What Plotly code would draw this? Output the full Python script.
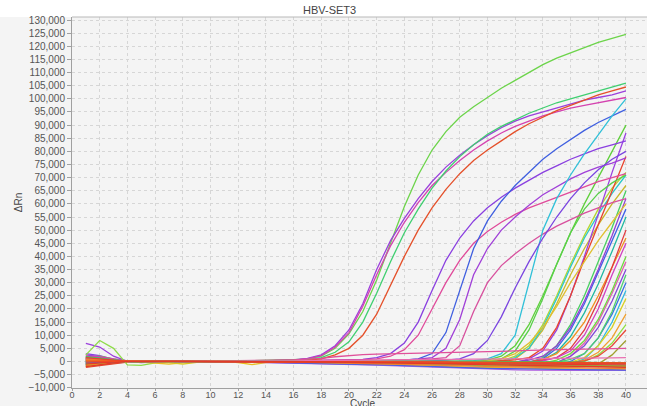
import plotly.graph_objects as go

cycles = list(range(1, 41))

# dRn values in thousands, cycles 1..40
green_top = [1.5,2.0,1.0,0.2,-0.2,0.0,0.2,0.1,0.0,0.2,
             0.3,0.1,0.2,0.3,0.5,0.7,1.0,2.0,5.0,10.5,
             19.0,31.0,45.0,59.0,71.0,80.5,87.5,93.0,97.0,100.5,
             104.0,107.0,110.0,113.0,115.5,117.5,119.5,121.5,123.0,124.5]
purple1 = [6.9,5.5,2.0,0.0,-0.3,0.1,0.0,0.2,0.1,0.1,
           0.2,0.0,0.1,0.2,0.4,0.6,1.2,2.5,6.0,12.0,
           22.0,35.0,46.0,54.5,62.0,68.5,74.0,78.5,82.5,86.0,
           89.0,91.5,93.5,95.0,96.5,98.0,99.5,100.5,101.5,103.0]
magenta1 = [2.0,1.8,1.0,0.1,-0.2,0.0,0.1,0.1,0.2,0.0,
            0.1,0.1,0.2,0.2,0.3,0.5,1.0,2.2,5.5,11.0,
            21.0,33.0,44.0,53.0,60.5,67.0,72.0,76.5,80.5,84.0,
            87.0,89.5,91.5,93.5,95.0,96.5,97.5,98.5,99.5,100.5]
green2 = [1.0,1.2,0.5,0.0,-0.1,0.1,0.0,0.1,0.0,0.2,
          0.1,0.2,0.1,0.3,0.4,0.5,0.8,1.5,3.5,7.5,
          15.0,26.0,38.0,49.0,58.0,66.0,72.5,78.0,82.5,86.5,
          89.5,92.0,94.5,96.5,98.5,100.0,101.5,103.0,104.5,106.0]
red1 = [-1.5,-1.0,-0.5,0.0,0.1,-0.1,0.0,0.1,0.0,0.1,
        0.0,0.1,0.1,0.2,0.3,0.4,0.5,1.0,2.5,5.0,
        10.0,18.0,29.0,40.0,50.0,58.5,65.5,71.5,76.5,80.5,
        84.0,87.5,90.5,93.0,95.5,97.5,99.5,101.5,103.0,104.5]

purpleA = [3.0,2.2,0.8,0.0,-0.3,0.0,0.1,0.0,0.1,0.0,
           0.1,0.0,0.0,0.1,0.2,0.2,0.3,0.4,0.5,0.6,
           0.8,1.5,3.0,7.0,15.0,27.0,38.5,47.0,53.5,58.5,
           62.5,66.0,69.0,72.0,74.5,77.0,79.0,81.0,82.5,84.0]
pinkA = [1.0,0.8,0.3,0.0,-0.2,0.1,0.0,0.1,0.0,0.0,
         0.1,0.1,0.0,0.1,0.1,0.2,0.3,0.3,0.4,0.5,
         0.7,1.0,2.0,4.5,10.0,20.0,30.0,38.5,45.0,49.5,
         53.0,56.0,58.5,60.5,62.5,64.5,66.5,68.5,70.0,71.5]
blueA = [-0.5,-0.3,0.0,0.1,0.0,-0.1,0.0,0.0,0.1,0.0,
         0.0,-0.1,0.0,0.0,0.0,-0.1,-0.1,0.0,0.0,0.1,
         0.1,0.2,0.3,0.5,1.0,3.0,11.0,27.0,43.0,53.5,
         61.0,67.0,72.0,77.0,81.0,84.5,88.0,91.0,93.5,96.0]
purpleB = [0.5,0.3,0.1,0.0,-0.1,0.0,0.0,0.1,0.0,0.0,
           0.0,0.0,-0.1,0.0,0.0,0.0,0.0,0.1,0.1,0.2,
           0.2,0.3,0.4,0.6,0.9,1.5,5.0,16.0,33.0,43.0,
           50.0,55.0,59.5,63.5,66.5,69.5,72.0,74.0,75.5,77.5]
pinkB = [1.2,0.8,0.4,0.0,-0.1,0.0,0.1,0.0,0.0,0.1,
         0.0,0.0,0.0,0.0,0.1,0.1,0.1,0.2,0.2,0.3,
         0.3,0.4,0.5,0.6,0.8,1.0,1.5,6.0,19.0,30.0,
         36.5,41.0,45.0,48.5,51.5,54.0,56.5,58.5,60.5,62.0]
cyanA = [-1.0,-0.6,-0.2,0.0,0.0,0.1,0.0,0.0,0.0,-0.1,
         0.0,0.0,0.0,-0.1,-0.1,-0.2,-0.2,-0.3,-0.3,-0.4,
         -0.4,-0.5,-0.5,-0.5,-0.4,-0.3,-0.2,0.0,0.3,1.0,
         3.0,10.0,30.0,50.0,62.0,71.0,79.0,86.5,93.5,100.0]
purpleC = [0.0,0.3,0.2,0.0,-0.1,0.0,0.0,0.0,0.1,0.0,
           0.0,0.0,0.0,-0.1,-0.1,-0.1,-0.2,-0.2,-0.3,-0.3,
           -0.3,-0.3,-0.2,-0.1,0.0,0.2,0.5,1.0,3.0,8.0,
           17.0,28.0,38.0,47.0,55.0,62.0,68.0,73.0,77.0,80.0]

late1 = [-0.8,-0.4,0.0,0.1,0.0,0.0,-0.1,0.0,0.0,0.1,
         0.0,0.0,-0.1,-0.1,-0.2,-0.2,-0.3,-0.3,-0.4,-0.4,
         -0.5,-0.5,-0.6,-0.6,-0.7,-0.7,-0.6,-0.5,-0.2,0.5,
         2.0,6.0,14.0,25.0,37.0,49.0,60.0,70.0,80.0,90.0]
late2 = [1.5,1.0,0.5,0.0,-0.2,0.0,0.1,0.0,0.0,0.1,
         0.1,0.0,0.0,0.0,-0.1,-0.1,-0.1,-0.2,-0.2,-0.3,
         -0.3,-0.4,-0.4,-0.5,-0.5,-0.6,-0.6,-0.6,-0.5,-0.3,
         0.2,2.0,6.0,14.0,25.0,37.0,48.0,58.0,66.0,72.0]
late3 = [0.5,0.8,0.3,0.1,0.0,-0.1,0.0,0.0,0.1,0.0,
         0.0,-0.1,-0.1,-0.2,-0.3,-0.4,-0.5,-0.6,-0.7,-0.8,
         -0.9,-1.0,-1.0,-1.1,-1.2,-1.2,-1.3,-1.3,-1.2,-1.0,
         -0.5,1.0,5.0,12.0,22.0,33.0,43.0,52.0,60.0,67.0]
late4 = [-1.8,-1.2,-0.6,-0.1,0.1,0.0,0.0,0.1,0.0,0.0,
         0.0,0.0,-0.1,-0.1,-0.2,-0.2,-0.3,-0.3,-0.4,-0.4,
         -0.5,-0.5,-0.6,-0.7,-0.8,-0.8,-0.9,-0.9,-0.8,-0.6,
         -0.2,1.5,5.0,13.0,24.0,36.0,47.0,56.0,64.0,71.0]
late5 = [2.5,1.8,0.8,0.0,-0.4,-0.1,0.0,0.1,0.0,0.0,
         0.1,0.0,0.0,0.0,-0.1,-0.1,-0.1,-0.2,-0.2,-0.3,
         -0.3,-0.4,-0.5,-0.5,-0.6,-0.7,-0.7,-0.8,-0.8,-0.8,
         -0.7,-0.4,1.0,4.0,12.0,25.0,40.0,56.0,72.0,87.0]
late6 = [-2.2,-1.5,-0.8,-0.2,0.0,0.1,0.0,0.0,0.0,0.0,
         0.1,0.1,0.0,0.1,0.0,0.1,0.1,0.2,0.2,0.3,
         0.3,0.3,0.2,0.2,0.1,0.1,0.0,0.0,0.0,0.1,
         0.3,0.6,1.5,5.0,13.0,25.0,39.0,52.0,65.0,78.0]
late7 = [1.0,1.5,0.6,0.0,-0.3,0.0,0.1,0.0,0.1,0.0,
         0.0,-0.1,-0.1,-0.2,-0.3,-0.4,-0.5,-0.6,-0.7,-0.8,
         -0.9,-1.0,-1.1,-1.2,-1.3,-1.4,-1.4,-1.5,-1.5,-1.5,
         -1.4,-1.2,-0.5,1.5,6.0,14.0,25.0,38.0,51.0,65.0]
late8 = [0.3,0.2,0.1,0.0,0.0,0.1,0.0,0.0,0.0,0.0,
         0.0,0.0,0.0,-0.1,-0.1,-0.2,-0.2,-0.3,-0.3,-0.4,
         -0.4,-0.5,-0.5,-0.6,-0.6,-0.7,-0.7,-0.8,-0.8,-0.8,
         -0.8,-0.7,-0.5,0.5,3.5,9.5,18.5,29.5,42.0,55.0]
late9 = [-1.2,-0.8,-0.3,0.0,0.1,0.0,0.0,0.0,0.1,0.0,
         0.0,0.0,-0.1,-0.1,-0.1,-0.2,-0.2,-0.3,-0.4,-0.5,
         -0.6,-0.7,-0.8,-0.9,-1.0,-1.0,-1.1,-1.1,-1.1,-1.0,
         -0.9,-0.7,-0.2,1.0,5.0,12.0,22.0,34.0,46.0,58.0]
late10 = [2.0,1.2,0.5,0.0,-0.2,0.0,0.1,0.0,0.1,0.0,
          0.0,0.0,0.1,0.0,0.0,-0.1,-0.1,-0.1,-0.2,-0.2,
          -0.3,-0.3,-0.4,-0.4,-0.5,-0.5,-0.6,-0.6,-0.6,-0.6,
          -0.6,-0.5,-0.3,0.8,3.0,8.0,15.0,25.0,36.0,47.0]
late11 = [0.8,0.5,0.2,0.0,-0.1,0.0,0.0,0.1,0.0,0.0,
          0.0,-0.1,-0.1,-0.2,-0.2,-0.3,-0.4,-0.5,-0.6,-0.7,
          -0.8,-0.9,-1.0,-1.1,-1.2,-1.3,-1.4,-1.5,-1.6,-1.6,
          -1.7,-1.7,-1.6,-1.4,-0.5,2.0,7.0,15.0,26.0,38.0]
late12 = [-0.6,-0.3,0.0,0.1,0.0,0.0,0.1,0.0,0.0,0.0,
          0.1,0.0,0.0,0.0,0.0,-0.1,-0.1,-0.1,-0.2,-0.2,
          -0.2,-0.3,-0.3,-0.3,-0.4,-0.4,-0.4,-0.5,-0.5,-0.5,
          -0.5,-0.4,-0.2,0.5,1.5,5.0,12.0,23.0,36.0,50.0]
late13 = [-1.5,-1.0,-0.4,0.0,0.1,0.0,-0.1,0.0,0.0,0.1,
          0.0,0.0,-0.1,-0.1,-0.2,-0.3,-0.4,-0.5,-0.6,-0.7,
          -0.8,-0.9,-1.0,-1.0,-1.1,-1.2,-1.2,-1.3,-1.3,-1.3,
          -1.3,-1.2,-1.0,-0.6,0.5,3.0,8.0,16.0,27.0,40.0]
late14 = [1.8,1.2,0.6,0.1,-0.2,0.0,0.0,0.1,0.0,0.0,
          0.0,0.0,0.0,-0.1,-0.1,-0.2,-0.2,-0.3,-0.3,-0.4,
          -0.5,-0.6,-0.7,-0.8,-0.9,-1.0,-1.1,-1.2,-1.3,-1.4,
          -1.5,-1.5,-1.4,-1.2,-0.4,2.0,6.0,13.0,23.0,35.0]
late15 = [0.2,0.4,0.2,0.0,0.0,0.0,0.1,0.0,0.0,0.0,
          0.0,0.0,-0.1,0.0,-0.1,-0.1,-0.2,-0.2,-0.3,-0.3,
          -0.4,-0.4,-0.5,-0.5,-0.6,-0.6,-0.7,-0.7,-0.7,-0.7,
          -0.7,-0.6,-0.4,0.2,1.5,4.0,10.0,20.0,33.0,45.0]
late16 = [-0.4,-0.2,0.0,0.1,0.0,0.0,0.0,0.0,0.1,0.0,
          0.0,0.0,-0.1,-0.1,-0.2,-0.3,-0.4,-0.5,-0.6,-0.7,
          -0.8,-0.9,-1.0,-1.1,-1.2,-1.3,-1.4,-1.5,-1.6,-1.7,
          -1.8,-1.9,-2.0,-2.0,-1.8,-1.0,1.0,6.0,15.0,27.0]
late17 = [1.2,0.9,0.4,0.0,-0.2,-0.1,0.0,0.0,0.0,0.1,
          0.0,0.0,0.0,-0.1,-0.1,-0.1,-0.2,-0.2,-0.3,-0.3,
          -0.4,-0.4,-0.5,-0.5,-0.6,-0.6,-0.7,-0.7,-0.8,-0.8,
          -0.9,-0.9,-1.0,-1.0,-0.9,-0.3,1.5,6.0,13.0,24.0]
late18 = [-1.0,-0.6,-0.2,0.0,0.1,0.0,0.0,0.0,0.0,0.0,
          0.0,-0.1,-0.1,-0.2,-0.2,-0.3,-0.3,-0.4,-0.5,-0.6,
          -0.7,-0.8,-0.9,-1.0,-1.1,-1.2,-1.3,-1.4,-1.5,-1.6,
          -1.7,-1.8,-1.9,-1.9,-1.5,0.0,3.0,9.0,18.0,30.0]
late19 = [0.6,0.4,0.2,0.0,0.0,0.1,0.0,0.0,0.0,0.0,
          0.1,0.0,0.0,0.0,-0.1,-0.1,-0.1,-0.2,-0.2,-0.2,
          -0.3,-0.3,-0.4,-0.4,-0.4,-0.5,-0.5,-0.5,-0.6,-0.6,
          -0.6,-0.7,-0.7,-0.7,-0.7,-0.6,0.5,3.5,9.0,18.0]
late20 = [-0.2,0.0,0.1,0.0,0.0,0.0,0.0,0.1,0.0,0.0,
          0.0,0.0,-0.1,-0.1,-0.1,-0.2,-0.2,-0.3,-0.3,-0.4,
          -0.4,-0.5,-0.5,-0.6,-0.6,-0.7,-0.7,-0.8,-0.8,-0.9,
          -0.9,-1.0,-1.0,-1.1,-1.1,-1.0,0.0,2.5,7.0,14.0]
late21 = [-1.4,-0.9,-0.4,0.0,0.1,0.0,0.0,0.0,0.0,0.0,
          0.0,0.0,0.0,0.0,-0.1,-0.1,-0.1,-0.1,-0.2,-0.2,
          -0.2,-0.2,-0.3,-0.3,-0.3,-0.3,-0.4,-0.4,-0.4,-0.4,
          -0.4,-0.4,-0.5,-0.5,-0.5,-0.4,0.2,2.0,6.0,12.0]
late22 = [0.9,0.6,0.3,0.0,-0.1,0.0,0.0,0.0,0.1,0.0,
          0.0,0.0,-0.1,-0.1,-0.2,-0.2,-0.3,-0.4,-0.5,-0.6,
          -0.7,-0.8,-0.9,-1.0,-1.1,-1.2,-1.3,-1.4,-1.5,-1.6,
          -1.7,-1.8,-1.9,-2.0,-2.1,-2.1,-2.0,-1.0,2.5,8.0]
late23 = [-0.3,0.2,0.2,0.0,-0.1,0.0,0.0,0.0,0.0,0.0,
          0.0,0.0,0.0,-0.1,-0.1,-0.1,-0.2,-0.2,-0.2,-0.3,
          -0.3,-0.4,-0.4,-0.5,-0.5,-0.5,-0.6,-0.6,-0.6,-0.7,
          -0.7,-0.7,-0.7,-0.6,-0.3,0.8,3.0,9.0,19.0,33.0]
late24 = [1.4,1.0,0.4,0.0,-0.2,0.0,0.0,0.0,0.1,0.0,
          0.0,0.0,-0.1,-0.1,-0.1,-0.2,-0.2,-0.3,-0.3,-0.4,
          -0.4,-0.5,-0.5,-0.6,-0.6,-0.7,-0.7,-0.7,-0.7,-0.6,
          -0.5,-0.2,0.5,2.0,6.0,13.0,23.0,35.0,48.0,62.0]
late25 = [0.0,0.5,0.3,0.0,-0.1,0.0,0.0,0.1,0.0,0.0,
          0.0,0.0,-0.1,-0.1,-0.1,-0.2,-0.2,-0.3,-0.3,-0.4,
          -0.4,-0.4,-0.5,-0.5,-0.5,-0.5,-0.5,-0.4,-0.3,0.0,
          1.0,4.0,12.0,24.0,37.0,49.0,58.0,64.0,68.0,71.0]
late26 = [0.3,0.6,0.3,0.0,-0.1,0.0,0.0,0.0,0.0,0.1,
          0.0,0.0,0.0,0.0,-0.1,-0.1,-0.1,-0.2,-0.2,-0.2,
          -0.3,-0.3,-0.3,-0.4,-0.4,-0.4,-0.4,-0.3,-0.2,0.2,
          1.0,3.0,7.0,13.0,21.0,30.0,38.0,46.0,53.0,60.0]

flat1 = [2.5,8.0,5.0,-1.3,-1.5,-0.5,-0.3,0.0,0.1,0.0,
         0.0,0.0,-0.1,-0.1,-0.2,-0.2,-0.3,-0.3,-0.4,-0.5,
         -0.5,-0.6,-0.7,-0.8,-0.8,-0.9,-1.0,-1.0,-1.1,-1.2,
         -1.2,-1.3,-1.3,-1.4,-1.4,-1.5,-1.5,-1.6,-1.6,-1.7]
flat2 = [1.0,0.5,0.2,0.0,0.0,0.1,0.0,0.1,0.1,0.2,
         0.2,0.3,0.3,0.4,0.5,0.6,0.8,1.2,1.8,2.3,
         2.6,2.8,2.9,3.0,3.1,3.2,3.3,3.4,3.5,3.6,
         3.8,4.0,4.2,4.4,4.5,4.6,4.7,4.8,4.9,5.0]
flat3 = [-2.0,-1.0,-0.3,0.0,-0.2,-0.6,-1.0,-0.5,-0.2,0.0,
         0.0,-0.4,-1.2,-0.4,-0.1,-0.2,-0.3,-0.4,-0.5,-0.6,
         -0.8,-1.0,-1.2,-1.4,-1.6,-1.8,-2.0,-2.1,-2.2,-2.3,
         -2.4,-2.5,-2.6,-2.7,-2.8,-2.9,-3.0,-3.0,-3.1,-3.2]
flat4 = [-1.0,-0.5,-0.1,0.0,0.1,0.0,0.0,0.0,0.0,0.0,
         0.0,0.0,0.0,0.0,-0.1,-0.1,-0.2,-0.2,-0.3,-0.3,
         -0.4,-0.4,-0.5,-0.5,-0.6,-0.6,-0.7,-0.7,-0.8,-0.8,
         -0.9,-0.9,-1.0,-1.0,-1.1,-1.1,-1.2,-1.2,-1.3,-1.3]
flat5 = [0.4,0.3,0.1,0.0,0.0,0.0,0.0,0.0,0.0,0.0,
         0.0,0.0,0.0,0.0,0.0,0.0,0.0,-0.1,-0.1,-0.1,
         -0.2,-0.2,-0.2,-0.3,-0.3,-0.3,-0.3,-0.4,-0.4,-0.4,
         -0.4,-0.4,-0.5,-0.5,-0.5,-0.5,-0.5,-0.5,-0.6,-0.6]
flat6 = [1.8,1.2,0.6,0.0,-0.2,0.0,0.0,0.0,0.0,0.0,
         0.0,0.0,0.1,0.1,0.1,0.2,0.2,0.3,0.3,0.3,
         0.3,0.3,0.3,0.3,0.2,0.2,0.2,0.1,0.1,0.0,
         0.0,-0.1,-0.1,-0.2,-0.2,-0.3,-0.3,-0.4,-0.4,-0.5]
flat7 = [0.0,0.2,0.1,0.0,0.0,0.0,-0.1,-0.1,-0.1,-0.1,
         -0.2,-0.2,-0.3,-0.4,-0.5,-0.6,-0.7,-0.8,-0.9,-1.0,
         -1.2,-1.4,-1.6,-1.8,-2.0,-2.2,-2.4,-2.6,-2.8,-3.0,
         -3.1,-3.2,-3.3,-3.4,-3.4,-3.4,-3.4,-3.4,-3.4,-3.4]
flat8 = [-1.2,-0.6,-0.1,0.1,0.0,0.0,-0.4,-1.0,-0.3,0.0,
         0.0,0.0,0.0,0.0,-0.1,-0.1,-0.1,-0.2,-0.2,-0.3,
         -0.3,-0.4,-0.4,-0.5,-0.6,-0.7,-0.8,-0.9,-1.0,-1.1,
         -1.2,-1.3,-1.4,-1.5,-1.6,-1.7,-1.8,-1.9,-2.0,-2.1]
flat9 = [-0.8,-0.5,-0.1,0.0,0.0,0.0,0.0,0.0,0.0,0.1,
         0.1,0.1,0.1,0.1,0.0,0.0,0.0,-0.1,-0.1,-0.2,
         -0.3,-0.4,-0.5,-0.6,-0.7,-0.8,-0.9,-1.0,-1.1,-1.2,
         -1.3,-1.4,-1.4,-1.5,-1.5,-1.6,-1.6,-1.6,-1.7,-1.7]
flat10 = [0.9,0.6,0.2,0.0,0.0,0.0,0.0,0.0,0.0,0.0,
          0.0,0.0,0.0,-0.1,-0.1,-0.2,-0.3,-0.4,-0.5,-0.6,
          -0.7,-0.8,-0.9,-1.0,-1.2,-1.3,-1.5,-1.6,-1.8,-1.9,
          -2.0,-2.1,-2.2,-2.3,-2.4,-2.5,-2.5,-2.6,-2.6,-2.7]
flat11 = [-0.3,-0.1,0.0,0.0,0.0,0.0,0.0,0.0,0.0,0.0,
          0.0,0.0,0.0,0.0,0.0,-0.1,-0.1,-0.1,-0.2,-0.2,
          -0.2,-0.3,-0.3,-0.3,-0.4,-0.4,-0.4,-0.5,-0.5,-0.6,
          -0.6,-0.6,-0.7,-0.7,-0.8,-0.8,-0.8,-0.9,-0.9,-1.0]
flat12 = [1.5,1.0,0.4,0.0,-0.1,0.0,0.0,0.0,0.0,0.0,
          0.0,0.0,0.0,0.0,0.0,0.0,-0.1,-0.1,-0.1,-0.2,
          -0.2,-0.2,-0.3,-0.3,-0.3,-0.4,-0.4,-0.4,-0.5,-0.5,
          -0.5,-0.6,-0.6,-0.6,-0.7,-0.7,-0.7,-0.8,-0.8,-0.8]
flat13 = [0.6,0.4,0.2,0.0,0.0,0.0,0.0,0.0,0.0,0.0,
          0.0,0.1,0.1,0.1,0.2,0.2,0.3,0.3,0.4,0.4,
          0.5,0.5,0.6,0.6,0.7,0.7,0.8,0.8,0.9,0.9,
          1.0,1.0,1.1,1.1,1.2,1.2,1.3,1.3,1.4,1.5]
flat14 = [-0.5,-0.3,0.0,0.0,0.0,0.0,0.0,0.0,0.0,-0.1,
          -0.1,-0.1,-0.2,-0.3,-0.4,-0.5,-0.6,-0.7,-0.8,-0.9,
          -1.0,-1.2,-1.4,-1.6,-1.8,-2.0,-2.2,-2.4,-2.5,-2.6,
          -2.7,-2.8,-2.9,-3.0,-3.0,-3.1,-3.1,-3.2,-3.2,-3.3]
flat15 = [-0.2,0.0,0.1,0.0,0.0,0.0,0.0,0.0,0.0,0.0,
          0.0,0.0,0.0,0.0,0.0,0.0,0.0,0.0,0.0,-0.1,
          -0.1,-0.1,-0.1,-0.2,-0.2,-0.2,-0.2,-0.3,-0.3,-0.3,
          -0.3,-0.3,-0.3,-0.4,-0.4,-0.4,-0.4,-0.4,-0.5,-0.5]
flat16 = [0.2,0.5,0.3,0.0,0.0,0.0,0.0,0.0,0.0,0.0,
          0.0,0.0,0.0,-0.1,-0.1,-0.1,-0.2,-0.3,-0.4,-0.5,
          -0.6,-0.7,-0.8,-0.9,-1.0,-1.1,-1.2,-1.3,-1.3,-1.4,
          -1.4,-1.5,-1.5,-1.5,-1.6,-1.6,-1.6,-1.7,-1.7,-1.8]
flat17 = [-2.0,-1.2,-0.5,0.0,0.1,0.0,0.0,0.0,0.0,0.0,
          0.0,0.0,0.0,-0.1,-0.1,-0.1,-0.2,-0.2,-0.2,-0.3,
          -0.3,-0.4,-0.5,-0.6,-0.7,-0.8,-0.9,-1.0,-1.1,-1.2,
          -1.3,-1.4,-1.5,-1.6,-1.7,-1.8,-1.9,-2.0,-2.1,-2.2]

x_ticks = list(range(0, 41, 2))
title_text = "HBV-SET3"
x_title = "Cycle"
y_title = "ΔRn"

series = [
    (late1, "#5fd03c"), (late2, "#b5d630"), (late3, "#c8b82a"), (late4, "#2cc8c8"),
    (late5, "#9a40e0"), (late6, "#e8442e"), (late7, "#48d060"), (late8, "#20b8a0"),
    (late9, "#4060e8"), (late10, "#f09020"), (late11, "#e060b0"), (late12, "#e03a40"),
    (late13, "#70d840"), (late14, "#8048d8"), (late15, "#d040c0"), (late16, "#30b8e0"),
    (late17, "#d8d020"), (late18, "#3a70e0"), (late19, "#f0a030"), (late20, "#90e040"),
    (late21, "#e84a3a"), (late22, "#a0a030"), (late23, "#50d070"), (late24, "#9040d0"),
    (late25, "#58d048"), (late26, "#e0c030"),
    (purpleA, "#8a3fe0"), (pinkA, "#e04a9a"), (blueA, "#3f5fe0"), (purpleB, "#a040d8"),
    (pinkB, "#d8509e"), (cyanA, "#30c0d8"), (purpleC, "#7a44e0"),
    (green_top, "#6cd44a"), (purple1, "#9b3fdc"), (magenta1, "#d442b0"),
    (green2, "#3fcf70"), (red1, "#e5502a"),
    (flat1, "#8fdc4a"), (flat2, "#e0509a"), (flat3, "#e8c020"), (flat6, "#40c860"),
    (flat7, "#b060e0"), (flat8, "#d8c820"), (flat9, "#60d050"), (flat11, "#30c0d0"),
    (flat13, "#e870b0"), (flat14, "#4a60e0"), (flat16, "#7ad84a"),
    (flat10, "#f08030"), (flat4, "#e53a2a"), (flat5, "#f06a20"), (flat12, "#e84030"),
    (flat15, "#ee4a22"), (flat17, "#e23a2a"),
]

fig = go.Figure()
for vals, col in series:
    assert len(vals) == len(cycles)
    fig.add_trace(go.Scatter(
        x=cycles, y=[v * 1000 for v in vals], mode="lines",
        line=dict(color=col, width=1.3), showlegend=False, hoverinfo="skip"))

bg = "#f4f4f4"
fig.update_layout(
    width=647, height=406,
    margin=dict(l=72, r=0, t=17, b=18),
    paper_bgcolor=bg, plot_bgcolor=bg,
    font=dict(family="Liberation Sans, Arial, sans-serif", color="#444"),
    hovermode=False,
    xaxis=dict(
        range=[0, 41.52], tickvals=x_ticks, ticktext=[str(t) for t in x_ticks],
        showgrid=True, gridcolor="#d6d6d6", griddash="dot", gridwidth=1,
        zeroline=False, showline=True, linecolor="#a0a0a0", linewidth=1,
        ticks="outside", ticklen=2, tickcolor="#a0a0a0",
        ticklabelstandoff=-4,
        tickfont=dict(size=9, color="#555"),
        automargin=False,
    ),
    yaxis=dict(
        range=[-10100, 131150], dtick=5000, tick0=0, tickformat=",d",
        showgrid=True, gridcolor="#d6d6d6", griddash="dot", gridwidth=1,
        zeroline=False, showline=True, linecolor="#a0a0a0", linewidth=1,
        ticks="outside", ticklen=4, tickcolor="#a0a0a0",
        tickfont=dict(size=10, color="#555"),
        title=dict(text=y_title, font=dict(size=10, color="#444"), standoff=4),
        automargin=False,
    ),
    shapes=[
        dict(type="rect", xref="paper", yref="paper", x0=-0.2, x1=1.01,
             y0=1.0, y1=1.06, fillcolor="white", line=dict(width=0), layer="below"),
        dict(type="line", xref="paper", yref="paper", x0=0, x1=1.0,
             y0=1.0, y1=1.0, line=dict(color="#b8b8b8", width=1)),
    ],
    annotations=[
        dict(text=title_text, xref="paper", yref="paper", x=0.447, y=1.019,
             xanchor="center", yanchor="middle", showarrow=False,
             font=dict(size=11, color="#444", family="Liberation Sans, Arial, sans-serif")),
        dict(text=x_title, xref="paper", yref="paper", x=0.505, y=-0.0405,
             xanchor="center", yanchor="middle", showarrow=False,
             font=dict(size=10, color="#444", family="Liberation Sans, Arial, sans-serif")),
    ],
)

fig.write_html("out.html", config={"displayModeBar": False, "staticPlot": True},
               post_script="document.body.style.margin='0';document.body.style.overflow='hidden';")
